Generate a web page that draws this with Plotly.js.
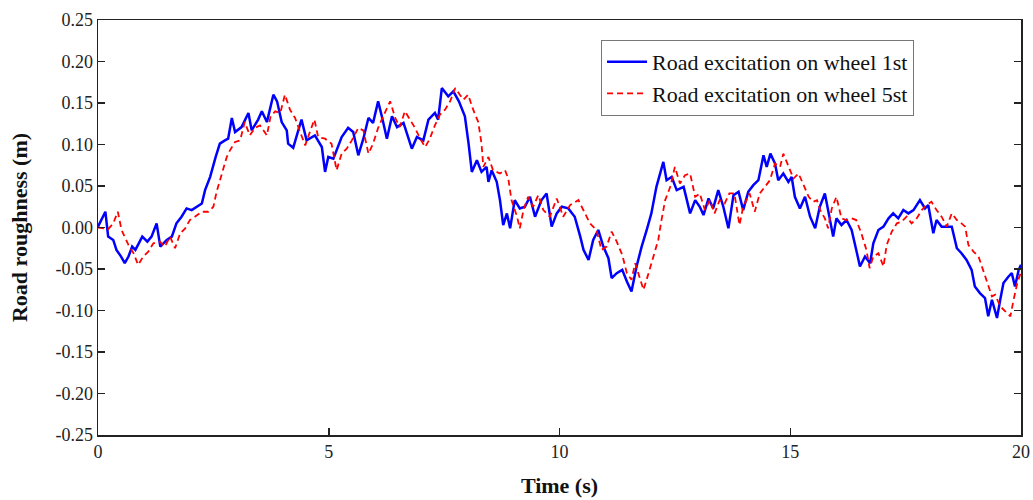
<!DOCTYPE html>
<html>
<head>
<meta charset="utf-8">
<script src="https://cdn.plot.ly/plotly-3.0.1.min.js"></script>
<style>html,body{margin:0;padding:0;background:#fff;}#chart{width:1033px;height:500px;}</style>
</head>
<body>
<div id="chart"></div>
<script>
// Road excitation on wheel 1st (blue, solid)
const wheel1Time = [0.00,0.08,0.16,0.22,0.33,0.40,0.50,0.58,0.66,0.74,0.81,0.96,1.07,1.16,1.27,1.35,1.49,1.60,1.70,1.81,1.92,2.03,2.14,2.25,2.32,2.43,2.55,2.64,2.75,2.82,2.90,2.97,3.11,3.26,3.33,3.47,3.55,3.66,3.80,3.88,3.98,4.09,4.12,4.23,4.34,4.41,4.52,4.70,4.85,4.92,4.99,5.10,5.28,5.42,5.53,5.64,5.75,5.86,5.96,6.07,6.15,6.26,6.37,6.48,6.62,6.80,6.91,7.05,7.16,7.30,7.37,7.45,7.59,7.70,7.82,7.95,8.03,8.10,8.21,8.31,8.42,8.46,8.53,8.64,8.71,8.78,8.86,8.93,9.03,9.14,9.25,9.36,9.47,9.61,9.72,9.83,9.94,10.05,10.19,10.33,10.45,10.52,10.63,10.73,10.84,10.95,11.06,11.13,11.24,11.36,11.46,11.56,11.67,11.78,11.89,11.99,12.10,12.18,12.25,12.32,12.43,12.54,12.69,12.83,12.94,13.04,13.12,13.23,13.33,13.44,13.55,13.66,13.77,13.88,13.98,14.09,14.20,14.31,14.42,14.49,14.57,14.67,14.74,14.85,14.96,15.03,15.10,15.21,15.32,15.43,15.54,15.64,15.75,15.82,15.93,16.00,16.11,16.22,16.33,16.43,16.51,16.62,16.73,16.80,16.91,17.02,17.13,17.23,17.34,17.45,17.56,17.67,17.81,17.92,17.99,18.10,18.17,18.28,18.39,18.50,18.61,18.71,18.82,18.93,19.00,19.11,19.22,19.29,19.37,19.48,19.55,19.62,19.73,19.80,19.87,19.95,20.00];
const wheel1Value = [0.001,0.010,0.019,-0.011,-0.015,-0.027,-0.035,-0.043,-0.035,-0.023,-0.027,-0.011,-0.017,-0.011,0.005,-0.023,-0.015,-0.011,0.005,0.013,0.023,0.021,0.025,0.029,0.045,0.061,0.085,0.101,0.105,0.107,0.132,0.115,0.121,0.138,0.117,0.130,0.140,0.127,0.160,0.152,0.127,0.117,0.101,0.096,0.117,0.130,0.105,0.111,0.097,0.067,0.085,0.083,0.109,0.120,0.115,0.087,0.107,0.132,0.126,0.152,0.134,0.107,0.134,0.121,0.126,0.095,0.109,0.105,0.130,0.138,0.130,0.168,0.158,0.164,0.152,0.134,0.101,0.067,0.081,0.067,0.073,0.055,0.069,0.055,0.033,0.003,0.017,-0.001,0.033,0.023,0.025,0.037,0.013,0.033,0.041,0.001,0.017,0.025,0.023,0.013,-0.011,-0.027,-0.039,-0.015,-0.003,-0.023,-0.037,-0.061,-0.055,-0.051,-0.065,-0.077,-0.047,-0.023,-0.003,0.017,0.049,0.065,0.079,0.057,0.061,0.045,0.049,0.017,0.033,0.025,0.015,0.035,0.023,0.045,0.025,-0.001,0.039,0.043,0.021,0.043,0.051,0.057,0.087,0.073,0.089,0.077,0.057,0.065,0.055,0.061,0.037,0.023,0.037,0.013,-0.001,0.025,0.041,0.021,-0.011,0.011,0.003,0.009,-0.003,-0.027,-0.047,-0.035,-0.043,-0.019,-0.003,0.001,0.011,0.017,0.011,0.021,0.017,0.021,0.033,0.023,0.027,-0.007,0.009,0.001,0.001,0.001,-0.025,-0.031,-0.039,-0.051,-0.071,-0.079,-0.085,-0.107,-0.087,-0.109,-0.087,-0.067,-0.059,-0.055,-0.071,-0.051,-0.045];

// Road excitation on wheel 5st (red, dashed)
const wheel5Time = [0.00,0.22,0.33,0.43,0.51,0.58,0.66,0.77,0.87,0.98,1.09,1.20,1.34,1.45,1.56,1.67,1.78,1.89,1.99,2.10,2.25,2.39,2.50,2.57,2.64,2.72,2.79,2.86,2.97,3.08,3.18,3.29,3.40,3.51,3.66,3.74,3.84,3.95,4.05,4.16,4.27,4.38,4.49,4.59,4.69,4.77,4.92,5.06,5.17,5.28,5.39,5.50,5.64,5.75,5.86,5.96,6.07,6.18,6.33,6.44,6.54,6.65,6.76,6.87,6.98,7.09,7.19,7.30,7.41,7.52,7.63,7.74,7.84,7.92,8.02,8.13,8.24,8.31,8.35,8.46,8.56,8.71,8.82,8.89,8.96,9.08,9.14,9.22,9.32,9.43,9.54,9.65,9.79,9.94,10.08,10.23,10.41,10.52,10.66,10.80,10.91,11.02,11.13,11.24,11.36,11.46,11.56,11.64,11.71,11.82,11.93,12.03,12.14,12.21,12.29,12.40,12.50,12.61,12.72,12.83,12.94,13.04,13.15,13.26,13.36,13.47,13.58,13.68,13.79,13.90,13.98,14.12,14.23,14.34,14.45,14.56,14.67,14.78,14.85,14.96,15.07,15.18,15.29,15.40,15.50,15.58,15.65,15.75,15.82,15.90,16.00,16.11,16.22,16.33,16.43,16.54,16.65,16.72,16.80,16.91,17.02,17.09,17.20,17.31,17.41,17.52,17.63,17.74,17.85,17.95,18.06,18.17,18.28,18.39,18.50,18.61,18.71,18.79,18.86,18.97,19.08,19.15,19.26,19.37,19.44,19.55,19.66,19.77,19.84,19.92,19.99];
const wheel5Value = [0.000,-0.002,0.005,0.019,-0.003,-0.011,-0.021,-0.031,-0.045,-0.035,-0.029,-0.019,-0.017,-0.023,-0.011,-0.025,-0.007,-0.001,0.009,0.013,0.019,0.019,0.025,0.043,0.057,0.073,0.085,0.093,0.103,0.105,0.127,0.111,0.120,0.123,0.111,0.134,0.140,0.138,0.160,0.142,0.132,0.115,0.099,0.115,0.130,0.109,0.107,0.101,0.069,0.089,0.095,0.105,0.120,0.117,0.089,0.101,0.120,0.134,0.152,0.132,0.121,0.140,0.130,0.120,0.107,0.097,0.107,0.123,0.136,0.142,0.152,0.168,0.160,0.154,0.160,0.142,0.127,0.101,0.073,0.085,0.069,0.065,0.069,0.059,0.033,0.013,-0.001,0.021,0.037,0.025,0.039,0.021,0.013,0.035,0.013,0.027,0.033,0.021,0.005,-0.003,-0.027,-0.023,-0.005,-0.017,-0.033,-0.055,-0.063,-0.043,-0.055,-0.075,-0.055,-0.035,-0.015,0.009,0.033,0.049,0.073,0.053,0.063,0.065,0.037,0.041,0.021,0.033,0.017,0.033,0.029,0.041,0.041,0.003,0.025,0.041,0.019,0.041,0.049,0.057,0.077,0.073,0.089,0.073,0.059,0.065,0.051,0.037,0.031,0.033,0.021,0.011,-0.001,0.023,0.037,0.011,0.009,0.011,0.009,-0.007,-0.027,-0.049,-0.035,-0.031,-0.047,-0.021,-0.005,0.005,0.007,0.013,0.005,0.011,0.021,0.027,0.031,0.021,0.013,0.001,0.017,0.009,0.005,0.001,-0.021,-0.029,-0.035,-0.047,-0.067,-0.083,-0.081,-0.095,-0.101,-0.107,-0.087,-0.067,-0.055];

const seriesNames = ["Road excitation on wheel 1st", "Road excitation on wheel 5st"];
const xTickVals = [0, 5, 10, 15, 20];
const xTickText = ["0", "5", "10", "15", "20"];
const yTickVals = [0.25, 0.20, 0.15, 0.10, 0.05, 0.00, -0.05, -0.10, -0.15, -0.20, -0.25];
const yTickText = ["0.25", "0.20", "0.15", "0.10", "0.05", "0.00", "-0.05", "-0.10", "-0.15", "-0.20", "-0.25"];

const serif = "Liberation Serif, Times New Roman, serif";

const traces = [
  {x: wheel1Time, y: wheel1Value, name: seriesNames[0], type: "scatter", mode: "lines",
   line: {color: "#0000ff", width: 2.5}},
  {x: wheel5Time, y: wheel5Value, name: seriesNames[1], type: "scatter", mode: "lines",
   line: {color: "#ff0000", width: 1.8, dash: "6px,4px"}}
];

const axisCommon = {
  showline: true, linecolor: "#222", linewidth: 1.5,
  ticks: "inside", ticklen: 7, tickwidth: 1.5, tickcolor: "#222",
  showgrid: false, zeroline: false,
  tickfont: {family: serif, size: 18, color: "#222"}
};

const layout = {
  width: 1033, height: 500,
  margin: {l: 98, r: 12, t: 20, b: 65},
  paper_bgcolor: "#fff", plot_bgcolor: "#fff",
  showlegend: true,
  legend: {
    x: 0.545, y: 0.952, xanchor: "left", yanchor: "top",
    bgcolor: "#fff", bordercolor: "#777", borderwidth: 1,
    font: {family: serif, size: 22, color: "#111"},
    tracegroupgap: 0, itemwidth: 40
  },
  xaxis: Object.assign({}, axisCommon, {
    range: [0, 20], tickvals: xTickVals, ticktext: xTickText, mirror: true,
    title: {text: "<b>Time (s)</b>", font: {family: serif, size: 22, color: "#111"}, standoff: 16}
  }),
  yaxis: Object.assign({}, axisCommon, {
    range: [-0.25, 0.25], tickvals: yTickVals, ticktext: yTickText, mirror: "ticks",
    title: {text: "<b>Road roughness (m)</b>", font: {family: serif, size: 22, color: "#111"}, standoff: 21}
  })
};

Plotly.newPlot("chart", traces, layout, {displayModeBar: false, staticPlot: true});
</script>
</body>
</html>
